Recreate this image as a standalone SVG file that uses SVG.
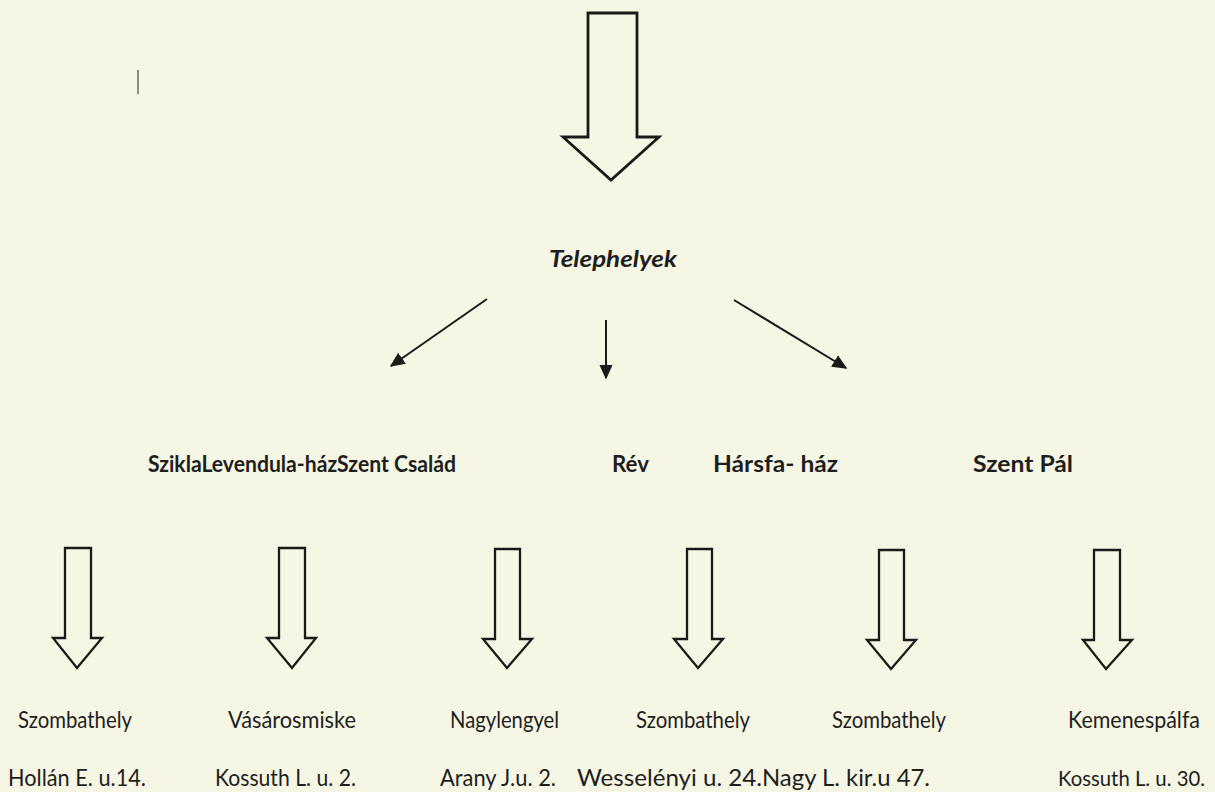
<svg xmlns="http://www.w3.org/2000/svg" width="1215" height="792" viewBox="0 0 1215 792">
<defs>
<style>
.t{font-family:Lato,"Liberation Sans",sans-serif;font-size:23px;fill:#1e1e1e}
.b{font-weight:bold}
.bi{font-weight:bold;font-style:italic}
.blk{fill:none;stroke:#1a1a1a;stroke-width:2.3;stroke-linejoin:miter}
.big{fill:none;stroke:#1a1a1a;stroke-width:2.8;stroke-linejoin:miter}
.thin{stroke:#1a1a1a;stroke-width:2;fill:none}
</style>
<marker id="ah" viewBox="0 0 10 10" refX="9" refY="5" markerWidth="15" markerHeight="15" markerUnits="userSpaceOnUse" orient="auto">
<path d="M0,0.5 L10,5 L0,9.5 Z" fill="#1a1a1a"/>
</marker>
</defs>
<rect width="1215" height="792" fill="#f6f6e4"/>
<line x1="138" y1="70" x2="138" y2="94" stroke="#666" stroke-width="1.5"/>

<g id="connectors">
<path id="top-arrow" class="big" d="M588,13 L637,13 L637,137 L659,137 L611,180 L563,137 L588,137 Z"/>
<line class="thin" x1="487" y1="299" x2="391" y2="366" marker-end="url(#ah)"/>
<line class="thin" x1="606" y1="320" x2="606" y2="378" marker-end="url(#ah)"/>
<line class="thin" x1="734" y1="300" x2="846" y2="368" marker-end="url(#ah)"/>
<path class="blk" d="M65,548 L91,548 L91,638 L102,638 L77,668 L53,638 L65,638 Z"/>
<path class="blk" d="M279,548 L305,548 L305,638 L316,638 L292,668 L267,638 L279,638 Z"/>
<path class="blk" d="M495,549 L520,549 L520,639 L532,639 L507,668 L483,639 L495,639 Z"/>
<path class="blk" d="M687,549 L712,549 L712,639 L723,639 L698,668 L674,639 L687,639 Z"/>
<path class="blk" d="M879,550 L904,550 L904,640 L916,640 L891,669 L867,640 L879,640 Z"/>
<path class="blk" d="M1094,550 L1120,550 L1120,640 L1132,640 L1106,669 L1083,640 L1094,640 Z"/>
</g>

<g id="telephelyek"><text class="t bi" x="549" y="267" textLength="128" lengthAdjust="spacingAndGlyphs">Telephelyek</text></g>

<g id="h-szikla-levendula-szentcsalad"><text class="t b" x="148" y="472" textLength="308" lengthAdjust="spacingAndGlyphs">SziklaLevendula-házSzent Család</text></g>
<g id="h-rev"><text class="t b" x="612" y="472" textLength="37" lengthAdjust="spacingAndGlyphs">Rév</text></g>
<g id="h-harsfa"><text class="t b" x="713" y="472" textLength="125" lengthAdjust="spacingAndGlyphs">Hársfa- ház</text></g>
<g id="h-szentpal"><text class="t b" x="973" y="472" textLength="100" lengthAdjust="spacingAndGlyphs">Szent Pál</text></g>

<g id="n1"><text class="t" x="18" y="728" textLength="114" lengthAdjust="spacingAndGlyphs">Szombathely</text><text class="t" x="8" y="786" textLength="138" lengthAdjust="spacingAndGlyphs">Hollán E. u.14.</text></g>
<g id="n2"><text class="t" x="228" y="728" textLength="128" lengthAdjust="spacingAndGlyphs">Vásárosmiske</text><text class="t" x="215" y="786" textLength="141" lengthAdjust="spacingAndGlyphs">Kossuth L. u. 2.</text></g>
<g id="n3"><text class="t" x="450" y="728" textLength="109" lengthAdjust="spacingAndGlyphs">Nagylengyel</text><text class="t" x="440" y="786" textLength="116" lengthAdjust="spacingAndGlyphs">Arany J.u. 2.</text></g>
<g id="n4"><text class="t" x="636" y="728" textLength="114" lengthAdjust="spacingAndGlyphs">Szombathely</text><text class="t" x="577" y="786" textLength="185" lengthAdjust="spacingAndGlyphs">Wesselényi u. 24.</text></g>
<g id="n5"><text class="t" x="832" y="728" textLength="114" lengthAdjust="spacingAndGlyphs">Szombathely</text><text class="t" x="762" y="786" textLength="168" lengthAdjust="spacingAndGlyphs">Nagy L. kir.u 47.</text></g>
<g id="n6"><text class="t" x="1068" y="728" textLength="132" lengthAdjust="spacingAndGlyphs">Kemenespálfa</text><text class="t" x="1058" y="786" textLength="147" lengthAdjust="spacingAndGlyphs" style="font-size:21px">Kossuth L. u. 30.</text></g>
</svg>
